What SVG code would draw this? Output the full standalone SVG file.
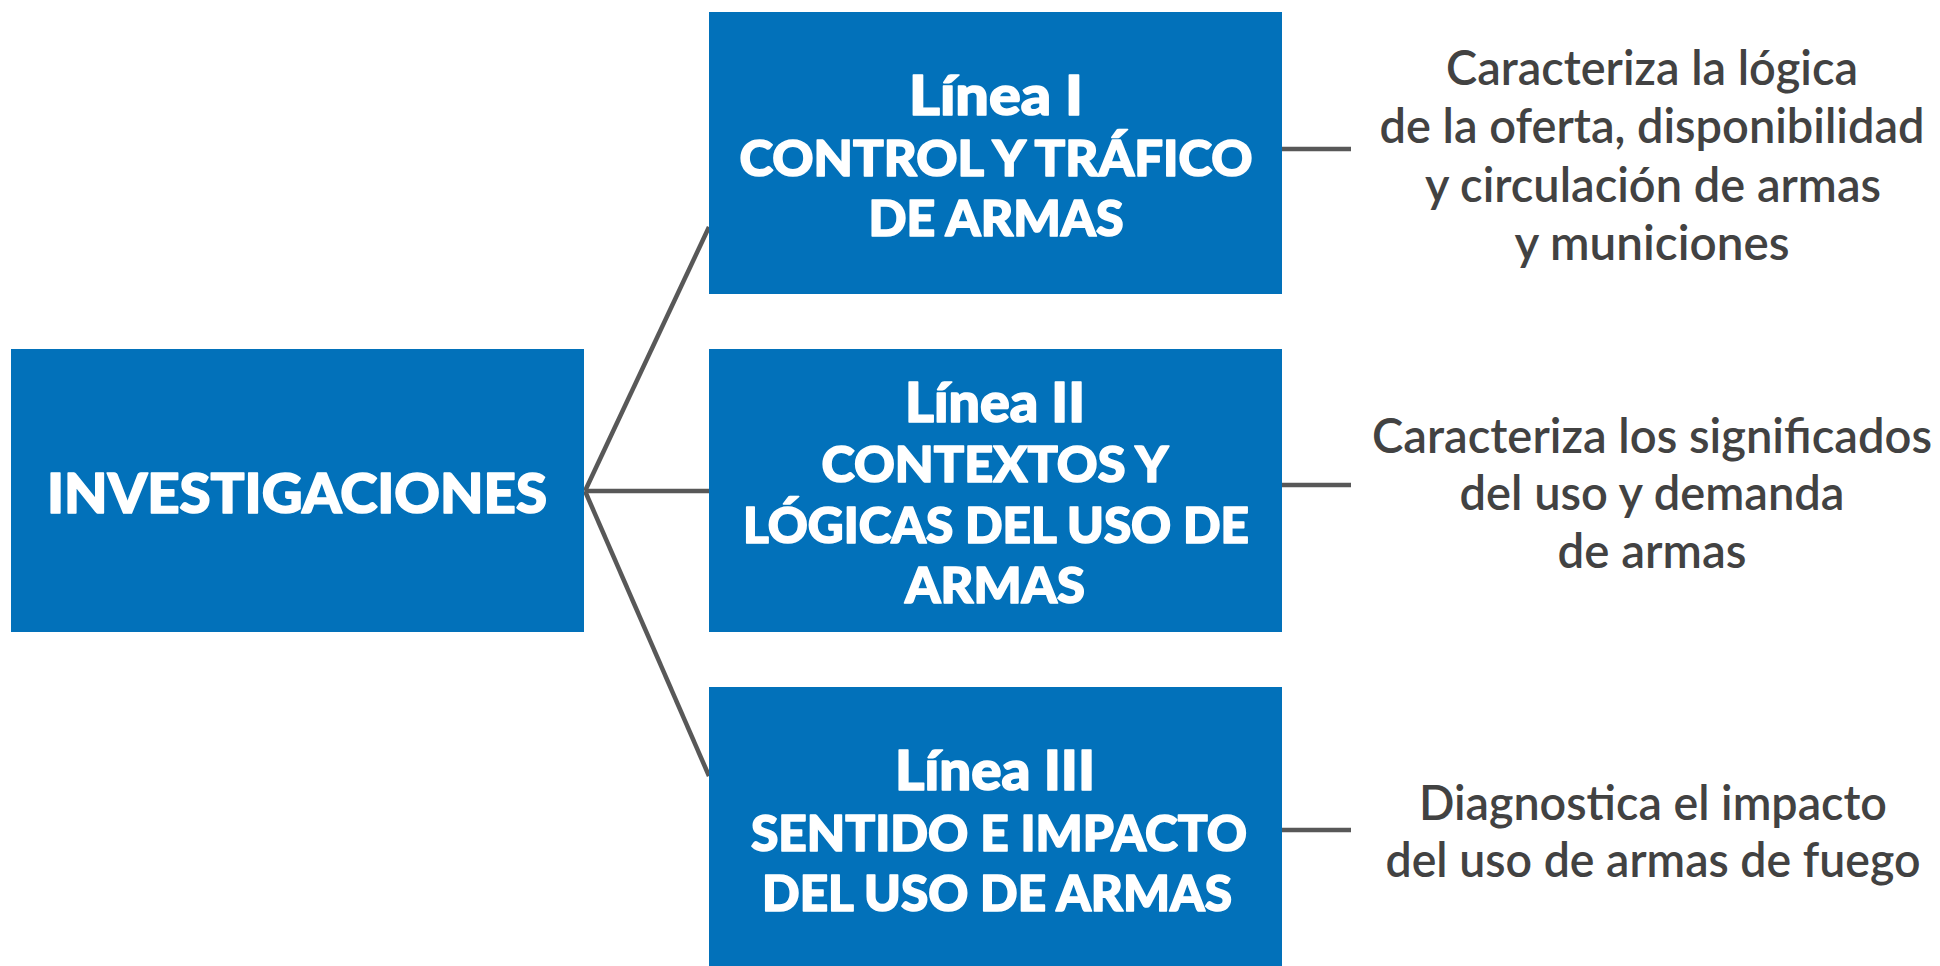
<svg xmlns="http://www.w3.org/2000/svg" width="1940" height="966" viewBox="0 0 1940 966">
<style>
.box{fill:#0271BA}
.bt{font-family:Lato,"Open Sans","Liberation Sans",sans-serif;font-weight:900;fill:#fff;stroke:#fff;stroke-width:1.6;stroke-linejoin:round;text-anchor:middle}
.h{font-size:55px}
.s{font-size:50px}
.dt{font-family:Lato,"Open Sans","Liberation Sans",sans-serif;font-weight:600;font-size:48px;fill:#424242;text-anchor:middle}
.c{stroke:#585858;stroke-width:4.5;fill:none}
</style>
<rect width="1940" height="966" fill="#fff"/>
<g id="connectors">
<line class="c" x1="585" y1="491" x2="709" y2="227"/>
<line class="c" x1="585" y1="491" x2="709" y2="491"/>
<line class="c" x1="585" y1="491" x2="709" y2="776"/>
<line class="c" x1="1282" y1="149" x2="1351" y2="149"/>
<line class="c" x1="1282" y1="485" x2="1351" y2="485"/>
<line class="c" x1="1282" y1="830" x2="1351" y2="830"/>
</g>
<g id="investigaciones">
<rect class="box" x="11" y="349" width="573" height="283"/>
<text class="bt h" x="297" y="513" textLength="500" lengthAdjust="spacingAndGlyphs">INVESTIGACIONES</text>
</g>
<g id="linea1">
<rect class="box" x="709" y="12" width="573" height="282"/>
<text class="bt h" x="996" y="115" textLength="174" lengthAdjust="spacingAndGlyphs">Línea I</text>
<text class="bt s" x="996" y="176" textLength="513" lengthAdjust="spacingAndGlyphs">CONTROL Y TRÁFICO</text>
<text class="bt s" x="996" y="236" textLength="255" lengthAdjust="spacingAndGlyphs">DE ARMAS</text>
</g>
<g id="linea2">
<rect class="box" x="709" y="349" width="573" height="283"/>
<text class="bt h" x="995" y="422" textLength="180" lengthAdjust="spacingAndGlyphs">Línea II</text>
<text class="bt s" x="995" y="482" textLength="347" lengthAdjust="spacingAndGlyphs">CONTEXTOS Y</text>
<text class="bt s" x="996" y="543" textLength="506" lengthAdjust="spacingAndGlyphs">LÓGICAS DEL USO DE</text>
<text class="bt s" x="995" y="603" textLength="180" lengthAdjust="spacingAndGlyphs">ARMAS</text>
</g>
<g id="linea3">
<rect class="box" x="709" y="687" width="573" height="279"/>
<text class="bt h" x="995" y="790" textLength="200" lengthAdjust="spacingAndGlyphs">Línea III</text>
<text class="bt s" x="999" y="851" textLength="496" lengthAdjust="spacingAndGlyphs">SENTIDO E IMPACTO</text>
<text class="bt s" x="997" y="911" textLength="470" lengthAdjust="spacingAndGlyphs">DEL USO DE ARMAS</text>
</g>
<g id="desc1">
<text class="dt" x="1652" y="85" textLength="412" lengthAdjust="spacingAndGlyphs">Caracteriza la lógica</text>
<text class="dt" x="1652" y="143" textLength="545" lengthAdjust="spacingAndGlyphs">de la oferta, disponibilidad</text>
<text class="dt" x="1653" y="202" textLength="456" lengthAdjust="spacingAndGlyphs">y circulación de armas</text>
<text class="dt" x="1652" y="260" textLength="275" lengthAdjust="spacingAndGlyphs">y municiones</text>
</g>
<g id="desc2">
<text class="dt" x="1652" y="453" textLength="560" lengthAdjust="spacingAndGlyphs">Caracteriza los significados</text>
<text class="dt" x="1652" y="510" textLength="385" lengthAdjust="spacingAndGlyphs">del uso y demanda</text>
<text class="dt" x="1652" y="568" textLength="189" lengthAdjust="spacingAndGlyphs">de armas</text>
</g>
<g id="desc3">
<text class="dt" x="1653" y="820" textLength="468" lengthAdjust="spacingAndGlyphs">Diagnostica el impacto</text>
<text class="dt" x="1653" y="877" textLength="535" lengthAdjust="spacingAndGlyphs">del uso de armas de fuego</text>
</g>
</svg>
